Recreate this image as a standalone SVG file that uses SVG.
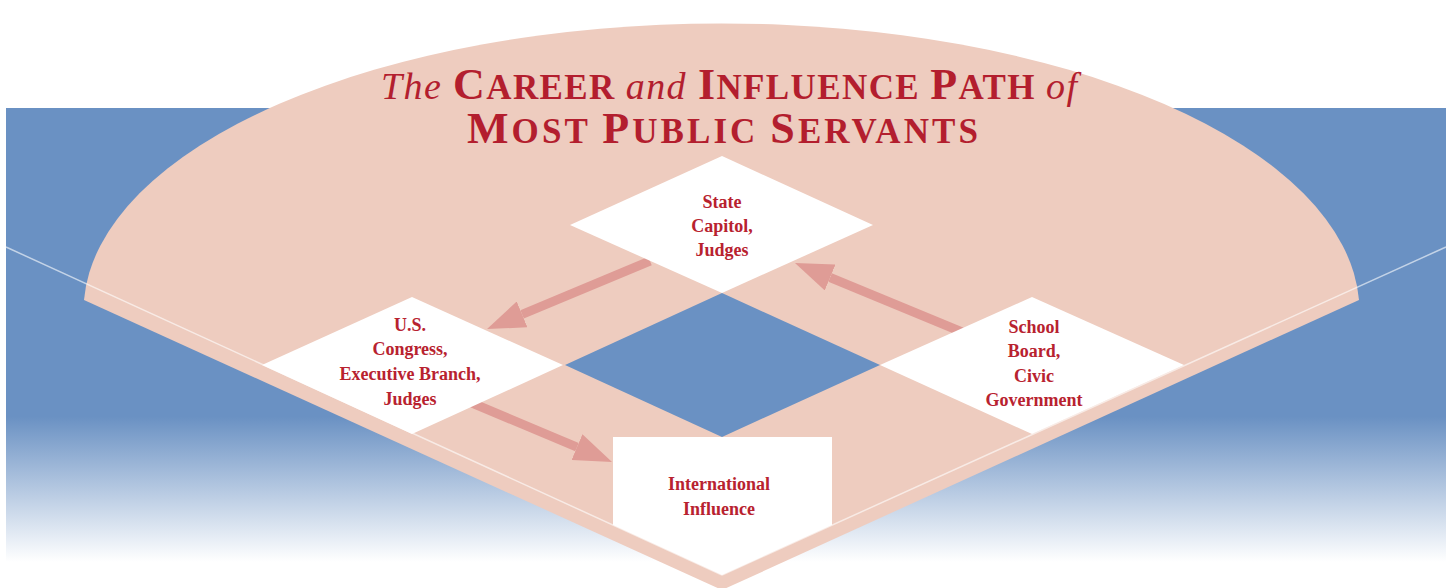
<svg xmlns="http://www.w3.org/2000/svg" width="1452" height="588" viewBox="0 0 1452 588">
  <defs>
    <linearGradient id="sky" x1="0" y1="108" x2="0" y2="562" gradientUnits="userSpaceOnUse">
      <stop offset="0" stop-color="#6A91C3"/>
      <stop offset="0.68" stop-color="#6A91C3"/>
      <stop offset="1" stop-color="#FFFFFF"/>
    </linearGradient>
    <marker id="head" viewBox="0 0 38 28" refX="0" refY="14" markerWidth="38" markerHeight="28" markerUnits="userSpaceOnUse" orient="auto">
      <path d="M0,0 L38,14 L0,28 Z" fill="#DF9C96"/>
    </marker>
    <style>
      .node { fill: #FFFFFF; }
      .lbl { font-family: "Liberation Serif", "Times New Roman", serif; font-size: 18px; font-weight: bold; fill: #B8222F; text-anchor: middle; }
      .title { font-family: "Liberation Serif", "Times New Roman", serif; font-weight: bold; fill: #B31E2E; text-anchor: middle; }
      .big { font-size: 44px; }
      .sc { font-size: 35px; }
      .it { font-size: 38px; font-style: italic; font-weight: normal; }
      .conn { stroke: #DF9C96; stroke-width: 9; fill: none; marker-end: url(#head); }
      .foul { stroke: #FFFFFF; stroke-opacity: 0.6; stroke-width: 1.5; fill: none; }
    </style>
  </defs>

  <!-- background -->
  <rect x="6" y="108" width="1440" height="454" fill="url(#sky)"/>
  <path d="M84,300 A638,288 0 0 1 1359,300 L722,590 Z" fill="#EECCBF"/>
  <path d="M722,293 L880,365 L722,437 L565,365 Z" fill="#6A91C3"/>
  <g id="foul-lines">
    <line class="foul" x1="6" y1="247" x2="722" y2="575"/>
    <line class="foul" x1="1446" y1="247" x2="722" y2="575"/>
  </g>

  <!-- connectors -->
  <g id="connectors">
    <line class="conn" x1="650" y1="261" x2="522.1" y2="314.4"/>
    <line class="conn" x1="962" y1="332" x2="830.1" y2="277.5"/>
    <line class="conn" x1="472" y1="403" x2="577" y2="447.2"/>
  </g>

  <!-- nodes -->
  <g id="state-capitol">
    <path class="node" d="M570,225 L722,156 L873,225 L722,293 Z"/>
    <text class="lbl" x="722" y="208">State</text>
    <text class="lbl" x="722" y="232">Capitol,</text>
    <text class="lbl" x="722" y="256">Judges</text>
  </g>
  <g id="us-congress">
    <path class="node" d="M262,365 L412,297 L563,365 L412,434 Z"/>
    <text class="lbl" x="410" y="331">U.S.</text>
    <text class="lbl" x="410" y="355">Congress,</text>
    <text class="lbl" x="410" y="380">Executive Branch,</text>
    <text class="lbl" x="410" y="405">Judges</text>
  </g>
  <g id="school-board">
    <path class="node" d="M880,365 L1032,297 L1184,365 L1032,434 Z"/>
    <text class="lbl" x="1034" y="333">School</text>
    <text class="lbl" x="1034" y="357">Board,</text>
    <text class="lbl" x="1034" y="382">Civic</text>
    <text class="lbl" x="1034" y="406">Government</text>
  </g>
  <g id="international-influence">
    <path class="node" d="M613,437 L832,437 L832,525 L722,575 L613,525 Z"/>
    <text class="lbl" x="719" y="490">International</text>
    <text class="lbl" x="719" y="515">Influence</text>
  </g>

  <!-- title -->
  <g id="title">
    <text class="title" x="729" y="99" textLength="696" lengthAdjust="spacing"><tspan class="it">The </tspan><tspan class="big">C</tspan><tspan class="sc">AREER </tspan><tspan class="it">and </tspan><tspan class="big">I</tspan><tspan class="sc">NFLUENCE </tspan><tspan class="big">P</tspan><tspan class="sc">ATH </tspan><tspan class="it">of</tspan></text>
    <text class="title" x="722.5" y="143" textLength="511" lengthAdjust="spacing"><tspan class="big">M</tspan><tspan class="sc">OST </tspan><tspan class="big">P</tspan><tspan class="sc">UBLIC </tspan><tspan class="big">S</tspan><tspan class="sc">ERVANTS</tspan></text>
  </g>
</svg>
